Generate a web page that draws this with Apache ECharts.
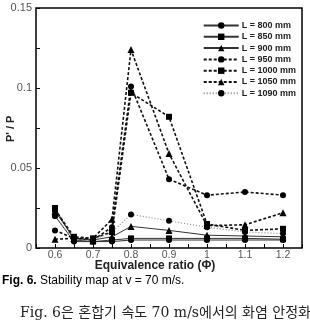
<!DOCTYPE html>
<html><head><meta charset="utf-8">
<script src="https://cdn.jsdelivr.net/npm/echarts@6/dist/echarts.min.js"></script>
<style>html,body{margin:0;padding:0;background:#fff}#c{width:310px;height:322px}</style>
</head><body><div id="c"></div>
<script>
var phi = [0.6, 0.65, 0.7, 0.75, 0.8, 0.9, 1.0, 1.1, 1.2];
var L800  = [0.020, 0.004, 0.004, 0.004, 0.005, 0.005, 0.005, 0.005, 0.005];
var L850  = [0.025, 0.005, 0.004, 0.005, 0.006, 0.006, 0.006, 0.006, 0.0055];
var L900  = [0.023, 0.006, 0.005, 0.007, 0.0135, 0.011, 0.008, 0.0075, 0.007];
var L950  = [0.011, 0.006, 0.005, 0.013, 0.101, 0.043, 0.033, 0.035, 0.033];
var L1000 = [0.024, 0.007, 0.006, 0.010, 0.097, 0.082, 0.015, 0.011, 0.012];
var L1050 = [0.0055, 0.006, 0.006, 0.018, 0.124, 0.059, 0.014, 0.0145, 0.022];
var L1090 = [0.020, 0.005, 0.005, 0.010, 0.021, 0.017, 0.013, 0.010, 0.009];
var names = ['L = 800 mm','L = 850 mm','L = 900 mm','L = 950 mm','L = 1000 mm','L = 1050 mm','L = 1090 mm'];
var sets = [L800, L850, L900, L950, L1000, L1050, L1090];
var symbols = ['circle','rect','triangle','circle','rect','triangle','circle'];
var styles = [
  {type:'solid', width:1, color:'#333'},
  {type:'solid', width:1, color:'#333'},
  {type:'solid', width:1, color:'#333'},
  {type:[3,2], width:1.6, color:'#111'},
  {type:[3,2], width:1.6, color:'#111'},
  {type:[3,2], width:1.6, color:'#111'},
  {type:[1,2], width:1.2, color:'#888'}
];
function pairs(arr){ return phi.map(function(x,i){ return [x, arr[i]]; }); }
var series = names.map(function(n,i){
  return {
    name:n, type:'line', data:pairs(sets[i]), symbol:symbols[i], symbolSize: symbols[i]==='triangle'?7:6,
    lineStyle:styles[i], itemStyle:{color:'#000'}, animation:false
  };
});
var chart = echarts.init(document.getElementById('c'));
chart.setOption({
  animation:false,
  grid:{left:36, right:8, top:8, bottom:74, show:true, borderColor:'#000', borderWidth:1.5},
  xAxis:{type:'value', min:0.55, max:1.25, interval:0.05,
    axisLine:{show:false}, splitLine:{show:false},
    axisTick:{show:true, inside:true, length:4, lineStyle:{color:'#000'}},
    axisLabel:{color:'#555', fontSize:10.5, fontFamily:'Liberation Sans', margin:2,
      formatter:function(v){ var k=Math.round(v*100); if(k%10!==0 || k<60 || k>120) return ''; return String(k/100); }}
  },
  yAxis:{type:'value', min:0, max:0.15, interval:0.025,
    axisLine:{show:false}, splitLine:{show:false},
    axisTick:{show:true, inside:true, length:4, lineStyle:{color:'#000'}},
    axisLabel:{color:'#555', fontSize:11, fontFamily:'Liberation Sans', margin:4,
      formatter:function(v){ var k=Math.round(v*1000); if(k%50!==0) return ''; return String(k/1000); }}
  },
  legend:{orient:'vertical', right:14, top:21, padding:0, itemWidth:35, itemHeight:8, itemGap:2.3,
    textStyle:{fontSize:9, lineHeight:8, fontWeight:'bold', color:'#222', fontFamily:'Liberation Sans', padding:[0,0,0,-2]},
    data:names},
  graphic:[
    {type:'text', left:'center', top:260, style:{text:'Equivalence ratio (\u03A6)', font:'bold 12px "Liberation Sans"', fill:'#222'}},
    {type:'text', x:5, y:142, rotation:Math.PI/2, style:{text:"P' / P", font:'bold 11px "Liberation Sans"', fill:'#222'}},
    {type:'text', x:2, y:275, style:{rich:{b:{font:'bold 12px "Liberation Sans"', fill:'#000'}, n:{font:'12px "Liberation Sans"', fill:'#000'}}, text:'{b|Fig. 6.}{n| Stability map at v = 70 m/s.}'}},
    {type:'text', x:20, y:306, style:{text:'Fig. 6\uC740 \uD63C\uD569\uAE30 \uC18D\uB3C4 70 m/s\uC5D0\uC11C\uC758 \uD654\uC5FC \uC548\uC815\uD654', font:'14px "DejaVu Serif", "Noto Sans CJK KR", serif', fill:'#222'}}
  ],
  series:series
});
</script></body></html>
